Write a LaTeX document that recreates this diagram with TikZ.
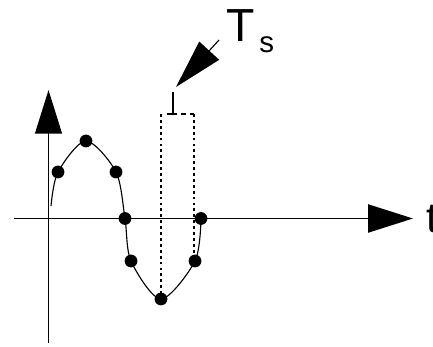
\documentclass[tikz,border=0pt]{standalone}
\usepackage{fontspec}
\setmainfont{Liberation Sans}
\usetikzlibrary{arrows.meta}

\begin{document}
\begin{tikzpicture}[x=0.25cm,y=0.25cm,
  sample/.style = {shape = circle,fill=black,inner sep=0pt,minimum size=0.32cm},
  axis/.style = {line width=1.4pt},
  guide/.style = {line width=0.9pt,dash pattern=on 2pt off 2.2pt}]
\useasboundingbox (0,0) rectangle (43.3,-34.7);

\coordinate (ybot) at (4.85,-34.3);
\coordinate (ytop) at (4.85,-9.0);
\coordinate (xleft) at (1.4,-21.85);
\coordinate (xright) at (41.3,-21.85);
\coordinate (S) at (5.1,-20.6);

\node[sample](P1) at (5.8,-17.2) {};
\node[sample](P2) at (8.6,-14.1) {};
\node[sample](P3) at (11.6,-17.2) {};
\node[sample](P4) at (12.5,-21.85) {};
\node[sample](P5) at (13.1,-26.1) {};
\node[sample](P6) at (16.1,-29.9) {};
\node[sample](P7) at (19.5,-26.1) {};
\node[sample](P8) at (20.1,-21.85) {};

% axes
\draw[axis,-{Triangle[length=31pt,width=19pt]}] (ybot) -- (ytop);
\draw[axis,-{Triangle[length=32pt,width=20pt]}] (xleft) -- (xright);
\node[anchor = base west,inner sep=0pt,font=\fontsize{30}{30}\selectfont](t) at (42.6,-23.3) {t};

% signal
\draw[line width=0.8pt] plot[smooth] coordinates {(S) (P1.center) (P2.center) (P3.center) (P4.center) (P5.center) (P6.center) (P7.center) (P8.center)};

% sampling interval
\coordinate (TL) at (16.1,-11.4);
\coordinate (TR) at (19.4,-11.4);
\coordinate (BR) at (19.4,-25.4);
\coordinate (K0) at (16.7,-11.4);
\coordinate (K) at (17.3,-11.4);
\coordinate (Ktop) at (17.3,-9.2);
\draw[guide] (TL) -- (P6.center);
\draw[guide] (TR) -- (BR);
\draw[line width=0.9pt,dash pattern=on 3pt off 3pt] (K) -- (TR);
\draw[line width=0.9pt] (K0) -- (K) -- (Ktop);

% label
\coordinate (A) at (21.9,-4.0);
\coordinate (Atip) at (17.6,-8.7);
\path [-{Triangle[length=35pt,width=19pt]},line width=0.8pt] (A) edge (Atip);
\node[anchor = base west,inner sep=0pt,font=\fontsize{33}{33}\selectfont](Ts) at (22.6,-4.2) {T\hspace{0.12cm}\raisebox{-0.275cm}{\fontsize{21}{21}\selectfont s}};
\end{tikzpicture}
\end{document}
